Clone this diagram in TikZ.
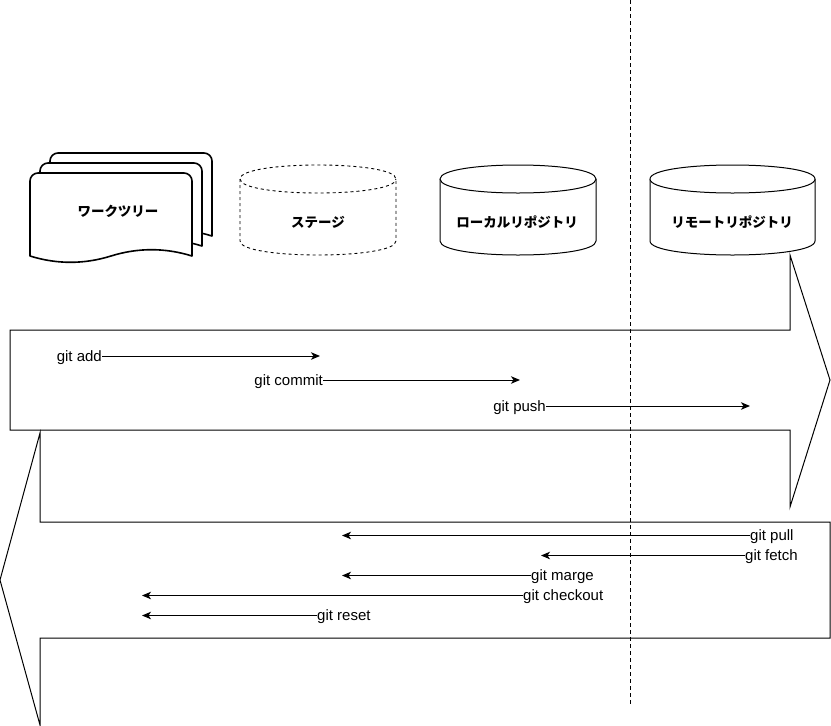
\documentclass[tikz,border=0pt]{standalone}
\usepackage{fontspec}
\setmainfont{Liberation Sans}
\newfontfamily\jpfont{Noto Sans CJK JP}
\usetikzlibrary{arrows.meta}
\tikzset{
  line/.style={line width=1pt, black},
  docshape/.style={line width=1.6pt, fill=white, line join=round},
  cyl/.style={line width=1pt, fill=white},
  cyldash/.style={line width=0.9pt, fill=white, dash pattern=on 3pt off 3pt},
  jplabel/.style={font=\jpfont\bfseries\fontsize{13.5pt}{15pt}\selectfont, inner sep=0pt},
  gitl/.style={font=\fontsize{15pt}{17pt}\selectfont, inner sep=0pt},
  garrow/.style={line width=1pt, -{Stealth[length=9pt,width=7.5pt,inset=2.5pt]}},
  bigarrow/.style={line width=1pt, line join=miter},
  divider/.style={line width=0.8pt, dash pattern=on 3.5pt off 3.5pt}
}
\begin{document}
\begin{tikzpicture}[x=1pt,y=-1pt]
\useasboundingbox (0,0) rectangle (831,726);

% big arrows
\draw[bigarrow] (10,330) -- (790,330) -- (790,255) -- (830,380) -- (790,507) -- (790,430) -- (10,430) -- cycle;
\draw[bigarrow] (830,522) -- (40,522) -- (40,433) -- (0,580) -- (40,725) -- (40,638) -- (830,638) -- cycle;

% work tree (multi document)
\foreach \s in {20,10,0}{
  \draw[docshape, shift={(\s,-\s)}] (30,256) -- (30,181)
     .. controls (30,176.6) and (33.6,173) .. (38,173) -- (184,173)
     .. controls (188.4,173) and (192,176.6) .. (192,181) -- (192,256)
     .. controls (165,247.6) and (138,247.6) .. (111,256)
     .. controls (84,264.4) and (57,264.4) .. (30,256) -- cycle;
}
\node[jplabel] (wt) at (118,211) {ワークツリー};

% stage (dashed cylinder)
\draw[cyldash] (240,179) -- (240,241) .. controls (240,259.67) and (396,259.67) .. (396,241) -- (396,179)
   .. controls (396,160.33) and (240,160.33) .. (240,179) -- cycle;
\draw[cyldash] (240,179) .. controls (240,197.67) and (396,197.67) .. (396,179);
\node[jplabel] (stage) at (318,222) {ステージ};

% local repository
\draw[cyl] (440,179) -- (440,241) .. controls (440,259.67) and (596,259.67) .. (596,241) -- (596,179)
   .. controls (596,160.33) and (440,160.33) .. (440,179) -- cycle;
\draw[cyl] (440,179) .. controls (440,197.67) and (596,197.67) .. (596,179);
\node[jplabel] (local) at (517,222) {ローカルリポジトリ};

% remote repository
\draw[cyl] (650,179) -- (650,241) .. controls (650,259.67) and (815,259.67) .. (815,241) -- (815,179)
   .. controls (815,160.33) and (650,160.33) .. (650,179) -- cycle;
\draw[cyl] (650,179) .. controls (650,197.67) and (815,197.67) .. (815,179);
\node[jplabel] (remote) at (732,222) {リモートリポジトリ};

% forward commands
\node[gitl, anchor=east] (tadd) at (102,357.5) {git add};
\coordinate (eadd) at (320,356);
\draw[garrow] (tadd.east |- eadd) -- (eadd);

\node[gitl, anchor=east] (tcommit) at (323,381.5) {git commit};
\coordinate (ecommit) at (520,380);
\draw[garrow] (tcommit.east |- ecommit) -- (ecommit);

\node[gitl, anchor=east] (tpush) at (546,407.5) {git push};
\coordinate (epush) at (750,406);
\draw[garrow] (tpush.east |- epush) -- (epush);

% backward commands
\node[gitl, anchor=west] (tpull) at (750,537) {git pull};
\coordinate (epull) at (342,535.5);
\draw[garrow] (tpull.west |- epull) -- (epull);

\node[gitl, anchor=west] (tfetch) at (745,557) {git fetch};
\coordinate (efetch) at (541,555.5);
\draw[garrow] (tfetch.west |- efetch) -- (efetch);

\node[gitl, anchor=west] (tmarge) at (531,577) {git marge};
\coordinate (emarge) at (342,575.5);
\draw[garrow] (tmarge.west |- emarge) -- (emarge);

\node[gitl, anchor=west] (tcheckout) at (523,597) {git checkout};
\coordinate (echeckout) at (142,595.5);
\draw[garrow] (tcheckout.west |- echeckout) -- (echeckout);

\node[gitl, anchor=west] (treset) at (317,617) {git reset};
\coordinate (ereset) at (142,615.5);
\draw[garrow] (treset.west |- ereset) -- (ereset);

% divider
\draw[divider] (630,0) -- (630,707);
\end{tikzpicture}
\end{document}
